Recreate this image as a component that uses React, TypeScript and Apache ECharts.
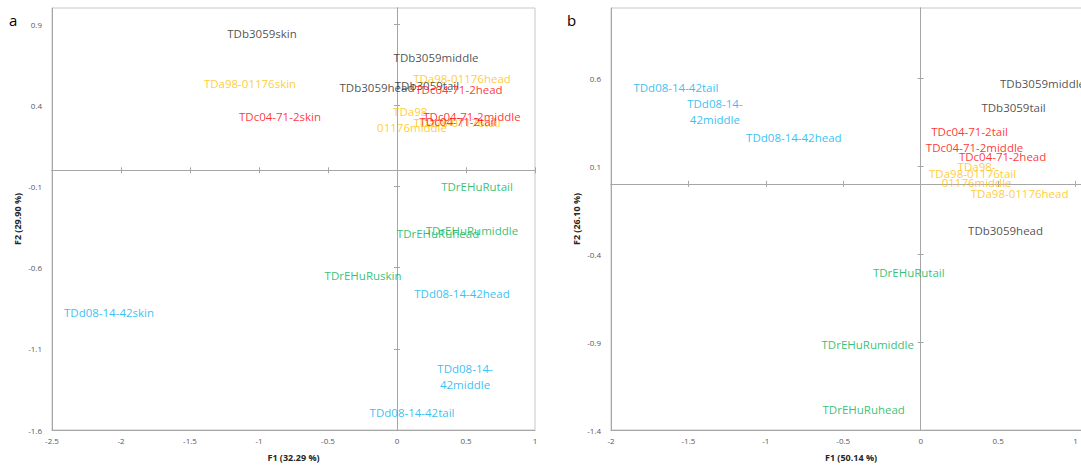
import React, { useEffect, useRef } from "react";
import * as echarts from "echarts";

const FONT = '"Open Sans", "Liberation Sans", sans-serif';

// Panel a
const aXTicks = [-2.5, -2, -1.5, -1, -0.5, 0, 0.5, 1];
const aYTicks = [-1.6, -1.1, -0.6, -0.1, 0.4, 0.9];
const aYellowNames = ["TDa98-01176skin", "TDa98-01176head", "TDa98-\n01176middle", "TDa98-01176tail"];
const aYellowX = [-1.065, 0.471, 0.109, 0.435];
const aYellowY = [0.537, 0.568, 0.315, 0.296];
const aBlackNames = ["TDb3059skin", "TDb3059middle", "TDb3059tail", "TDb3059head"];
const aBlackX = [-0.978, 0.283, 0.217, -0.145];
const aBlackY = [0.84, 0.698, 0.525, 0.512];
const aRedNames = ["TDc04-71-2skin", "TDc04-71-2head", "TDc04-71-2middle", "TDc04-71-2tail"];
const aRedX = [-0.848, 0.449, 0.543, 0.442];
const aRedY = [0.333, 0.5, 0.333, 0.302];
const aGreenNames = ["TDrEHuRutail", "TDrEHuRumiddle", "TDrEHuRuhead", "TDrEHuRuskin"];
const aGreenX = [0.58, 0.543, 0.297, -0.246];
const aGreenY = [-0.099, -0.37, -0.389, -0.648];
const aBlueNames = ["TDd08-14-42head", "TDd08-14-42skin", "TDd08-14-\n42middle", "TDd08-14-42tail"];
const aBlueX = [0.471, -2.087, 0.493, 0.109];
const aBlueY = [-0.759, -0.877, -1.272, -1.494];

// Panel b
const bXTicks = [-2, -1.5, -1, -0.5, 0, 0.5, 1];
const bYTicks = [-1.4, -0.9, -0.4, 0.1, 0.6];
const bBlueNames = ["TDd08-14-42tail", "TDd08-14-\n42middle", "TDd08-14-42head"];
const bBlueX = [-1.581, -1.329, -0.819];
const bBlueY = [0.547, 0.41, 0.262];
const bYellowNames = ["TDa98-\n01176middle", "TDa98-01176tail", "TDa98-01176head"];
const bYellowX = [0.361, 0.335, 0.639];
const bYellowY = [0.051, 0.057, -0.057];
const bBlackNames = ["TDb3059middle", "TDb3059tail", "TDb3059head"];
const bBlackX = [0.787, 0.6, 0.548];
const bBlackY = [0.57, 0.433, -0.268];
const bRedNames = ["TDc04-71-2tail", "TDc04-71-2middle", "TDc04-71-2head"];
const bRedX = [0.316, 0.348, 0.529];
const bRedY = [0.296, 0.205, 0.154];
const bGreenNames = ["TDrEHuRutail", "TDrEHuRumiddle", "TDrEHuRuhead"];
const bGreenX = [-0.077, -0.342, -0.368];
const bGreenY = [-0.507, -0.912, -1.282];

const C_BLACK = "#1e1e1e";
const C_YELLOW = "#ffc000";
const C_RED = "#ff0000";
const C_GREEN = "#00b050";
const C_BLUE = "#00b0f0";
const AXIS = "#a6a6a6";

function makeAxes(g: number, min: number, max: number, ticks: number[], dim: "x" | "y", name: string, otherLabelIdx: number) {
  const base: any = {
    type: "value",
    gridIndex: g,
    min,
    max,
    splitLine: { show: false },
  };
  const pos = dim === "x" ? "bottom" : "left";
  const labelAxis = {
    ...base,
    position: pos,
    axisLine: { show: true, onZero: false, lineStyle: { color: AXIS, width: 1 } },
    axisTick: { show: false },
    axisLabel: {
      customValues: ticks,
      fontSize: 8,
      color: "#595959",
      fontFamily: FONT,
      margin: dim === "x" ? 6 : 10,
    },
    name,
    nameLocation: "middle",
    nameGap: dim === "x" ? 23 : 30,
    nameTextStyle: { fontWeight: "bold", fontSize: 9, color: "#262626", fontFamily: FONT },
  };
  const zero = (inside: boolean) => ({
    ...base,
    position: pos,
    axisLine: { show: true, onZero: true, onZeroAxisIndex: otherLabelIdx, lineStyle: { color: AXIS, width: 1 } },
    axisTick: { show: true, inside, length: 3, customValues: ticks, lineStyle: { color: AXIS } },
    axisLabel: { show: false },
  });
  return [labelAxis, zero(false), zero(true)];
}

function series(names: string[], xs: number[], ys: number[], color: string, axisIdx: number) {
  return {
    type: "scatter",
    xAxisIndex: axisIdx,
    yAxisIndex: axisIdx,
    symbolSize: 0.1,
    itemStyle: { color: "transparent" },
    clip: false,
    silent: true,
    data: names.map((n, i) => ({ name: n, value: [xs[i], ys[i]] })),
    label: {
      show: true,
      position: "inside",
      formatter: "{b}",
      color,
      fontSize: 11.5,
      fontFamily: FONT,
      lineHeight: 16,
      align: "center",
      verticalAlign: "middle",
    },
  };
}

export default function App() {
  const ref = useRef<HTMLDivElement>(null);
  useEffect(() => {
    if (!ref.current) return;
    const chart = echarts.init(ref.current, undefined, { renderer: "svg" });
    const xAxis = [
      ...makeAxes(0, -2.5, 1, aXTicks, "x", "F1 (32.29 %)", 0),
      ...makeAxes(1, -2, 1.1, bXTicks, "x", "F1 (50.14 %)", 3),
    ];
    const yAxis = [
      ...makeAxes(0, -1.6, 1.0, aYTicks, "y", "F2 (29.90 %)", 0),
      ...makeAxes(1, -1.4, 1.0, bYTicks, "y", "F2 (26.10 %)", 3),
    ];
    chart.setOption({
      animation: false,
      backgroundColor: "#ffffff",
      grid: [
        { left: 52, top: 8, width: 483, height: 422, show: true, borderColor: "#c8c8c8", borderWidth: 1, outerBoundsMode: "none", containLabel: false },
        { left: 611, top: 8, width: 480, height: 422, show: true, borderColor: "#c8c8c8", borderWidth: 1, outerBoundsMode: "none", containLabel: false },
      ],
      xAxis,
      yAxis,
      graphic: [
        { type: "text", left: 9, top: 12, style: { text: "a", fontSize: 15, fontFamily: FONT, fill: "#000" } },
        { type: "text", left: 567, top: 12, style: { text: "b", fontSize: 15, fontFamily: FONT, fill: "#000" } },
      ],
      series: [
        series(aYellowNames, aYellowX, aYellowY, C_YELLOW, 0),
        series(aBlackNames, aBlackX, aBlackY, C_BLACK, 0),
        series(aRedNames, aRedX, aRedY, C_RED, 0),
        series(aGreenNames, aGreenX, aGreenY, C_GREEN, 0),
        series(aBlueNames, aBlueX, aBlueY, C_BLUE, 0),
        series(bBlueNames, bBlueX, bBlueY, C_BLUE, 3),
        series(bYellowNames, bYellowX, bYellowY, C_YELLOW, 3),
        series(bBlackNames, bBlackX, bBlackY, C_BLACK, 3),
        series(bRedNames, bRedX, bRedY, C_RED, 3),
        series(bGreenNames, bGreenX, bGreenY, C_GREEN, 3),
      ],
    });
    return () => chart.dispose();
  }, []);
  return (
    <div
      ref={ref}
      style={{ position: "fixed", left: 0, top: 0, width: 1081, height: 466, background: "#fff" }}
    />
  );
}
